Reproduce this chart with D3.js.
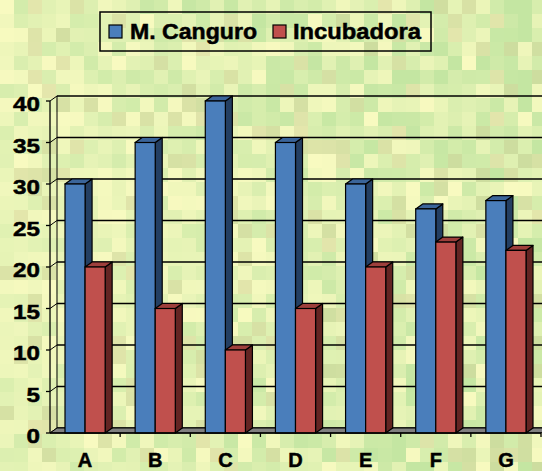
<!DOCTYPE html>
<html>
<head>
<meta charset="utf-8">
<script src="https://cdn.jsdelivr.net/npm/d3@7"></script>
<style>
body { margin: 0; }
svg { display: block; }
text { font-family: Arial, "Liberation Sans", sans-serif; font-weight: bold; fill: #000; stroke: #000; stroke-width: 0.5px; }
</style>
</head>
<body>
<svg id="chart"></svg>
<script>
var categories = ["A", "B", "C", "D", "E", "F", "G"];
var seriesNames = ["M. Canguro", "Incubadora"];
var canguro = [30, 35, 40, 35, 30, 27, 28];
var incubadora = [20, 15, 10, 15, 20, 23, 22];
var yTicks = [0, 5, 10, 15, 20, 25, 30, 35, 40];

var screen = {width: 542, height: 471};
var depth = {dx: 7, dy: -5};
var colors = {
    "M. Canguro": {front: "#4A7EBB", top: "#3B659A", side: "#243F62"},
    "Incubadora": {front: "#C0504D", top: "#9E3F3C", side: "#632523"}
};

var svg = d3.select("#chart")
    .attr("width", screen.width)
    .attr("height", screen.height);

// textured background (blocky yellow-green, decorative only)
var drawBackground = function()
{
    var bg = svg.append("g").attr("id", "bg");
    var cell = 14;
    var hash = function(i, j) {
        var s = Math.sin(i * 12.9898 + j * 78.233) * 43758.5453;
        return s - Math.floor(s);
    };
    var yellow = d3.rgb("#F8FAC0"), green = d3.rgb("#C4E6A2"), olive = d3.rgb("#D4D69C");
    for (var i = 0; i * cell < screen.width; i++) {
        for (var j = 0; j * cell < screen.height; j++) {
            var h = hash(i, j), h2 = hash(j + 7, i + 3);
            var greenAmt = 0.3 + 0.4 * (i * cell / screen.width) + 0.2 * Math.abs((j * cell - 250) / 250);
            var c = d3.interpolateRgb(yellow, green)(Math.min(1, greenAmt * h * 1.5));
            if (h2 > 0.85) c = d3.interpolateRgb(c, olive)(0.55);
            bg.append("rect")
                .attr("x", i * cell).attr("y", j * cell)
                .attr("width", cell + 0.5).attr("height", cell + 0.5)
                .attr("fill", c);
        }
    }
};
drawBackground();

var plot = {left: 50, right: 541, top: 101, bottom: 433};

var xScale = d3.scaleBand().domain(categories).range([plot.left, plot.right]);
var xInner = d3.scaleBand().domain(seriesNames).range([15, xScale.bandwidth() - 15]);
var yScale = d3.scaleLinear().domain([0, 40]).range([plot.bottom, plot.top]);

// back wall gridlines
svg.append("g").selectAll("line")
    .data(yTicks)
    .join("line")
    .attr("x1", plot.left + depth.dx)
    .attr("x2", plot.right + depth.dx + 10)
    .attr("y1", function(d) { return yScale(d) + depth.dy; })
    .attr("y2", function(d) { return yScale(d) + depth.dy; })
    .attr("stroke", "#000")
    .attr("stroke-width", 1.3);

// side wall
var side = svg.append("g");
side.selectAll("line")
    .data(yTicks)
    .join("line")
    .attr("x1", plot.left)
    .attr("x2", plot.left + depth.dx)
    .attr("y1", function(d) { return yScale(d); })
    .attr("y2", function(d) { return yScale(d) + depth.dy; })
    .attr("stroke", "#000");
side.append("line")
    .attr("x1", plot.left + depth.dx).attr("x2", plot.left + depth.dx)
    .attr("y1", yScale(40) + depth.dy).attr("y2", yScale(0) + depth.dy)
    .attr("stroke", "#000");

// floor
svg.append("polygon")
    .attr("points", [
        [plot.left, plot.bottom],
        [plot.right, plot.bottom],
        [plot.right + depth.dx, plot.bottom + depth.dy],
        [plot.left + depth.dx, plot.bottom + depth.dy]
    ].join(" "))
    .attr("fill", "#808080")
    .attr("stroke", "#000")
    .attr("stroke-width", 1);

// bars
var rows = [];
categories.forEach(function(c, i) {
    rows.push({cat: c, series: "M. Canguro", value: canguro[i]});
    rows.push({cat: c, series: "Incubadora", value: incubadora[i]});
});

var bars = svg.append("g").selectAll("g")
    .data(rows)
    .join("g");

bars.each(function(d) {
    var g = d3.select(this);
    var x0 = xScale(d.cat) + xInner(d.series);
    var x1 = x0 + xInner.bandwidth();
    var yt = yScale(d.value);
    var yb = yScale(0);
    var c = colors[d.series];
    g.append("polygon")
        .attr("points", [[x1, yt], [x1 + depth.dx, yt + depth.dy], [x1 + depth.dx, yb + depth.dy], [x1, yb]].join(" "))
        .attr("fill", c.side).attr("stroke", "#000").attr("stroke-width", 1.2).attr("stroke-linejoin", "round");
    g.append("polygon")
        .attr("points", [[x0, yt], [x0 + depth.dx, yt + depth.dy], [x1 + depth.dx, yt + depth.dy], [x1, yt]].join(" "))
        .attr("fill", c.top).attr("stroke", "#000").attr("stroke-width", 1.2).attr("stroke-linejoin", "round");
    g.append("rect")
        .attr("x", x0).attr("y", yt)
        .attr("width", x1 - x0).attr("height", yb - yt)
        .attr("fill", c.front).attr("stroke", "#000").attr("stroke-width", 1.2);
});

// y axis
var yAxis = svg.append("g");
yAxis.append("line")
    .attr("x1", plot.left).attr("x2", plot.left)
    .attr("y1", plot.top).attr("y2", plot.bottom)
    .attr("stroke", "#000").attr("stroke-width", 1.3);
yAxis.selectAll(".tick")
    .data(yTicks)
    .join("line")
    .attr("x1", plot.left - 4).attr("x2", plot.left)
    .attr("y1", function(d) { return yScale(d); })
    .attr("y2", function(d) { return yScale(d); })
    .attr("stroke", "#000").attr("stroke-width", 1.3);
yAxis.selectAll("text")
    .data(yTicks)
    .join("text")
    .attr("transform", function(d) { return "translate(40," + (yScale(d) + 3) + ") scale(1.18,1)"; })
    .attr("text-anchor", "end")
    .attr("dy", "0.35em")
    .style("font-size", "20.5px")
    .text(function(d) { return d; });

// x axis
var xAxis = svg.append("g");
xAxis.append("line")
    .attr("x1", plot.left).attr("x2", plot.right)
    .attr("y1", plot.bottom).attr("y2", plot.bottom)
    .attr("stroke", "#000").attr("stroke-width", 1.3);
xAxis.selectAll(".tick")
    .data(categories)
    .join("line")
    .attr("x1", function(d) { return xScale(d) + xScale.bandwidth(); })
    .attr("x2", function(d) { return xScale(d) + xScale.bandwidth(); })
    .attr("y1", plot.bottom).attr("y2", plot.bottom + 4)
    .attr("stroke", "#000").attr("stroke-width", 1.3);
xAxis.selectAll("text")
    .data(categories)
    .join("text")
    .attr("x", function(d) { return xScale(d) + xScale.bandwidth() / 2; })
    .attr("y", 467)
    .attr("text-anchor", "middle")
    .style("font-size", "20px")
    .text(function(d) { return d; });

// legend
var legend = svg.append("g");
legend.append("rect")
    .attr("x", 100).attr("y", 12).attr("width", 331).attr("height", 39)
    .attr("fill", "none").attr("stroke", "#000").attr("stroke-width", 1.5);
var legendPos = [{sx: 109, tx: 130, len: 127}, {sx: 273, tx: 293, len: 128}];
legend.selectAll("g")
    .data(seriesNames)
    .join("g")
    .each(function(d, i) {
        var g = d3.select(this);
        g.append("rect")
            .attr("x", legendPos[i].sx).attr("y", 25)
            .attr("width", 13).attr("height", 13)
            .attr("fill", colors[d].front).attr("stroke", "#000").attr("stroke-width", 1.2);
        g.append("text")
            .attr("x", legendPos[i].tx).attr("y", 39)
            .attr("textLength", legendPos[i].len)
            .attr("lengthAdjust", "spacingAndGlyphs")
            .style("font-size", "22px")
            .text(d);
    });
</script>
</body>
</html>
